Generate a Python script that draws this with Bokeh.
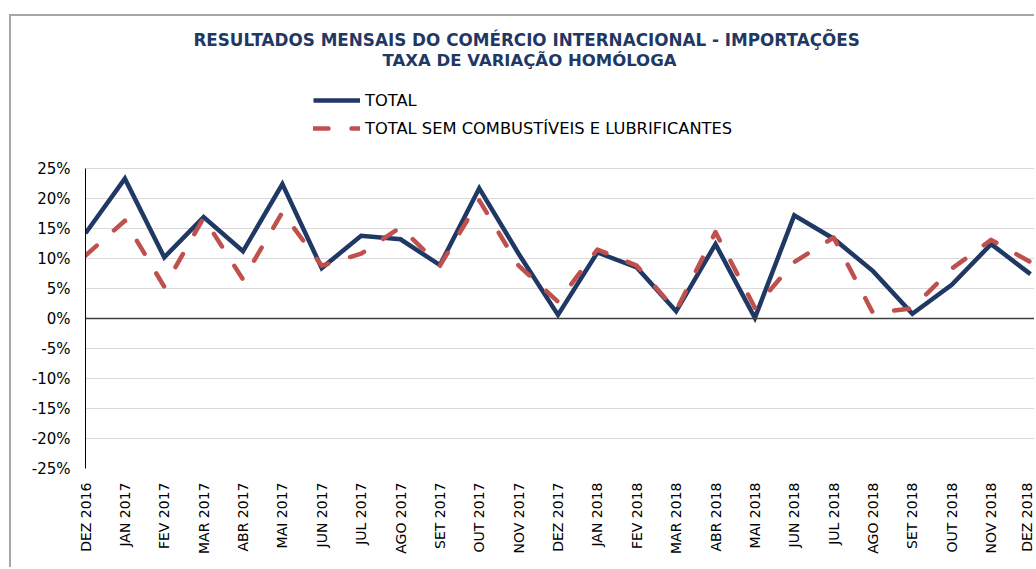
import math
from bokeh.plotting import figure
from bokeh.models import (Label, Legend, LegendItem, FixedTicker, Range1d, Span)
from bokeh.embed import file_html
from bokeh.resources import INLINE

# ---------------- data ----------------
months = ["DEZ 2016", "JAN 2017", "FEV 2017", "MAR 2017", "ABR 2017", "MAI 2017",
          "JUN 2017", "JUL 2017", "AGO 2017", "SET 2017", "OUT 2017", "NOV 2017",
          "DEZ 2017", "JAN 2018", "FEV 2018", "MAR 2018", "ABR 2018", "MAI 2018",
          "JUN 2018", "JUL 2018", "AGO 2018", "SET 2018", "OUT 2018", "NOV 2018",
          "DEZ 2018"]
total = [14.2, 23.3, 10.2, 16.9, 11.2, 22.4, 8.4, 13.8, 13.2, 8.9, 21.7, 10.8,
         0.6, 11.0, 8.5, 1.2, 12.4, 0.1, 17.2, 13.3, 7.9, 0.8, 5.6, 12.4, 7.4]
total_sem_comb = [10.5, 16.3, 5.3, 16.8, 6.5, 17.7, 8.8, 10.8, 15.2, 8.8, 19.7, 8.8,
                  2.8, 11.5, 8.8, 1.3, 14.4, 1.8, 9.4, 13.5, 0.9, 1.7, 8.3, 13.1, 9.4]
y_ticks = [-25, -20, -15, -10, -5, 0, 5, 10, 15, 20, 25]
y_labels = {t: f"{t}%" for t in y_ticks}

series_names = ["TOTAL", "TOTAL SEM COMBUSTÍVEIS E LUBRIFICANTES"]
title_lines = ["RESULTADOS MENSAIS DO COMÉRCIO INTERNACIONAL  - IMPORTAÇÕES",
               "TAXA DE VARIAÇÃO HOMÓLOGA"]

# ---------------- layout (page pixels) ----------------
OX, OY = 11, 16            # canvas origin on page (after gray border)
FRAME_L, FRAME_B = 85, 468
W, H = 1036 - OX, 553
BL = FRAME_L - OX
BB = H - (FRAME_B - OY)
frame_w = W - BL
frame_h = H - BB
PX_X = 39.375              # px per month
PX_Y = 6.0                 # px per percentage point
X_END = frame_w / PX_X
Y_TOP = -25 + frame_h / PX_Y


def fx(px):
    return (px - FRAME_L) / PX_X


def fy(py):
    return -25 + (FRAME_B - py) / PX_Y


FONT = "DejaVu Sans"
NAVY = "#1F3864"
RED = "#C0504D"

p = figure(width=W, height=H, output_backend="svg", toolbar_location=None,
           x_range=Range1d(0, X_END), y_range=Range1d(-25, Y_TOP),
           min_border_left=BL, min_border_right=0, min_border_top=0,
           min_border_bottom=BB)
p.styles = {"margin-left": "9px", "margin-top": "14px",
            "border-left": "2px solid #a6a6a6", "border-top": "2px solid #a6a6a6"}
p.outline_line_color = None
p.background_fill_color = "white"

xs = list(range(len(months)))

# grid
p.xgrid.visible = False
p.ygrid.ticker = FixedTicker(ticks=y_ticks)
p.ygrid.grid_line_color = "#d9d9d9"
p.ygrid.grid_line_width = 1

# axes
p.xaxis.ticker = FixedTicker(ticks=xs)
p.xaxis.major_label_overrides = {i: m for i, m in enumerate(months)}
p.xaxis.major_label_orientation = math.pi / 2
p.xaxis.axis_line_color = None
p.xaxis.major_tick_line_color = None
p.xaxis.major_tick_out = 0
p.xaxis.major_tick_in = 0
p.xaxis.minor_tick_line_color = None
p.xaxis.major_label_standoff = 14
p.xaxis.major_label_text_font_size = "14px"
p.xaxis.major_label_text_font = FONT
p.xaxis.major_label_text_color = "black"

p.yaxis.ticker = FixedTicker(ticks=y_ticks)
p.yaxis.bounds = (-25, 25)
p.yaxis.major_label_overrides = y_labels
p.yaxis.axis_line_color = "black"
p.yaxis.axis_line_width = 1
p.yaxis.major_tick_line_color = None
p.yaxis.major_tick_out = 0
p.yaxis.major_tick_in = 0
p.yaxis.minor_tick_line_color = None
p.yaxis.major_label_standoff = 15
p.yaxis.major_label_text_font_size = "15px"
p.yaxis.major_label_text_font = FONT
p.yaxis.major_label_text_color = "black"

# zero line
p.add_layout(Span(location=0, dimension="width", line_color="#404040", line_width=1.5))

# series
r_total = p.line(xs, total, line_color=NAVY, line_width=4.5, line_join="miter")
r_sem = p.line(xs, total_sem_comb, line_color=RED, line_width=4.5, line_dash="15 23",
               line_cap="round", line_join="round")

legend = Legend(items=[LegendItem(label=series_names[0], renderers=[r_total]),
                       LegendItem(label=series_names[1], renderers=[r_sem])],
                location=(313 - FRAME_L, FRAME_B - 138), orientation="vertical",
                glyph_width=47, glyph_height=20, label_height=20, spacing=8,
                padding=0, margin=0, border_line_color=None, background_fill_alpha=0,
                label_text_font_size="16.3px", label_text_font=FONT,
                label_standoff=5, label_text_color="black")
p.add_layout(legend)

# titles
for txt, ypx, fs in zip(title_lines, [39, 60], ["16.8px", "16.5px"]):
    p.add_layout(Label(x=fx(529), y=fy(ypx), text=txt, text_align="center",
                       text_baseline="middle", text_font=FONT, text_font_style="bold",
                       text_font_size=fs, text_color=NAVY))

open("out.html", "w").write(file_html(p, INLINE))
